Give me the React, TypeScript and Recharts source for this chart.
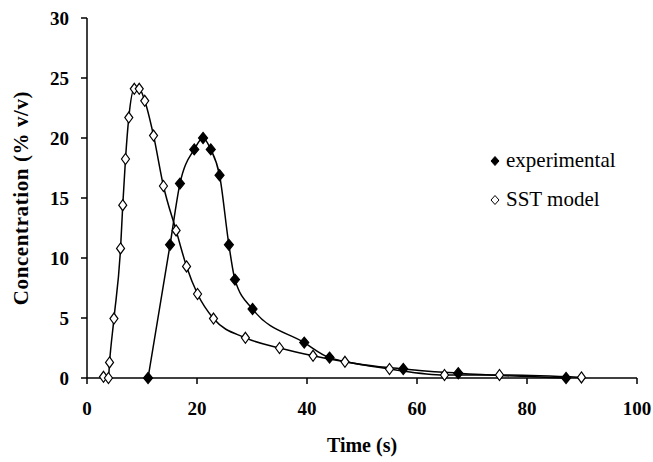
import { ComposedChart, Line, XAxis, YAxis, Legend } from 'recharts';

const sstTime = [3.0, 3.9, 4.1, 4.9, 6.1, 6.5, 7.0, 7.6, 8.6, 9.5, 10.5, 12.1, 13.9, 16.2, 18.1, 20.1, 23.0, 28.8, 35.0, 41.1, 46.9, 55.0, 65.0, 75.0, 89.9];
const sstConc = [0.1, 0, 1.3, 4.95, 10.8, 14.4, 18.25, 21.7, 24.1, 24.1, 23.1, 20.2, 16.0, 12.3, 9.3, 7.0, 4.95, 3.35, 2.5, 1.85, 1.35, 0.75, 0.25, 0.25, 0.05];

const expTime = [11.1, 15.1, 16.9, 19.5, 21.1, 22.5, 24.1, 25.8, 26.9, 30.1, 39.5, 44.1, 57.5, 67.5, 87.1];
const expConc = [0, 11.1, 16.2, 19.05, 20.0, 19.05, 16.9, 11.1, 8.2, 5.75, 2.95, 1.7, 0.75, 0.4, 0.0];

const xTicks = [0, 20, 40, 60, 80, 100];
const yTicks = [0, 5, 10, 15, 20, 25, 30];

const sstData = sstTime.map((t, i) => ({ t, c: sstConc[i] }));
const expData = expTime.map((t, i) => ({ t, c: expConc[i] }));

const FONT = '"Liberation Serif", "Times New Roman", serif';

function diamond(filled: boolean, w: number, h: number) {
  return (props: any) => {
    const { cx, cy, index } = props;
    if (cx == null || cy == null) return <g key={index} />;
    const pts = `${cx},${cy - h / 2} ${cx + w / 2},${cy} ${cx},${cy + h / 2} ${cx - w / 2},${cy}`;
    return (
      <polygon key={index} points={pts} fill={filled ? '#000' : '#fff'} stroke="#000" strokeWidth={1.2} />
    );
  };
}

function LegendBox() {
  const row = (filled: boolean, label: string) => (
    <div style={{ display: 'flex', alignItems: 'center', height: 39 }}>
      <svg width={12} height={12} style={{ marginRight: 5 }}>
        <polygon points="6,1.5 10,6 6,10.5 2,6" fill={filled ? '#000' : '#fff'} stroke="#000" strokeWidth={1} />
      </svg>
      <span style={{ fontFamily: FONT, fontSize: 21, color: '#000' }}>{label}</span>
    </div>
  );
  return (
    <div>
      {row(true, 'experimental')}
      {row(false, 'SST model')}
    </div>
  );
}

export default function App() {
  return (
    <div style={{ position: 'absolute', left: 0, top: 0, background: '#fff' }}>
      <ComposedChart width={653} height={462} margin={{ top: 18, right: 16, bottom: 4, left: 0 }}>
        <XAxis
          type="number"
          dataKey="t"
          domain={[0, 100]}
          ticks={xTicks}
          allowDuplicatedCategory={false}
          height={80}
          stroke="#000"
          strokeWidth={1.5}
          tickSize={6}
          tickMargin={18}
          tick={{ fill: '#000', fontFamily: FONT, fontSize: 19, fontWeight: 700 }}
          label={{ value: 'Time (s)', position: 'insideBottom', offset: 6, fill: '#000', fontFamily: FONT, fontSize: 20, fontWeight: 700 }}
        />
        <YAxis
          type="number"
          domain={[0, 30]}
          ticks={yTicks}
          width={87}
          stroke="#000"
          strokeWidth={1.5}
          tickSize={6}
          tickMargin={12}
          tick={{ fill: '#000', fontFamily: FONT, fontSize: 19, fontWeight: 700 }}
          label={{
            value: 'Concentration (% v/v)', angle: -90, position: 'insideLeft', offset: 21,
            fill: '#000', fontFamily: FONT, fontSize: 21, fontWeight: 700,
            style: { textAnchor: 'middle', letterSpacing: 0.6 },
          }}
        />
        <Legend
          layout="vertical"
          align="center"
          verticalAlign="middle"
          wrapperStyle={{ left: 489, top: 141, width: 150 }}
          content={() => <LegendBox />}
        />
        <Line
          data={sstData}
          dataKey="c"
          name="SST model"
          type="monotone"
          stroke="#000"
          strokeWidth={1.5}
          dot={diamond(false, 8, 11)}
          activeDot={false}
          isAnimationActive={false}
        />
        <Line
          data={expData}
          dataKey="c"
          name="experimental"
          type="monotone"
          stroke="#000"
          strokeWidth={1.5}
          dot={diamond(true, 9, 11)}
          activeDot={false}
          isAnimationActive={false}
        />
      </ComposedChart>
    </div>
  );
}
